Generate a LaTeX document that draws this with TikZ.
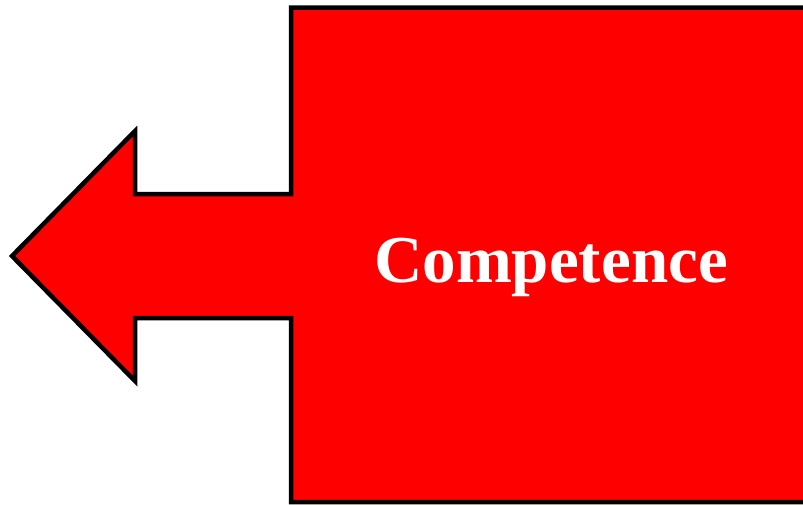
\documentclass[tikz,border=0pt]{standalone}
\usepackage{fontspec}
\newfontfamily\wordfont{Liberation Serif}

\begin{document}
\begin{tikzpicture}[x=1pt,y=-1pt,
  outline/.style={draw=black,fill=red,line width=4.5pt,line join=miter},
  word/.style={font=\wordfont\bfseries\fontsize{67}{67}\selectfont,text=white,inner sep=0pt}]
\useasboundingbox (0,0) rectangle (803,504);
\clip (0,0) rectangle (803,504);
% arrow to the left
\coordinate (tip)      at (12,256);
\coordinate (headtop)  at (135,131);
\coordinate (headbot)  at (135,381);
\coordinate (shafttop) at (291,194);
\coordinate (shaftbot) at (291,318);
% box, cut off at the right
\coordinate (boxtl) at (291,7.5);
\coordinate (boxtr) at (820,7.5);
\coordinate (boxbr) at (820,502);
\coordinate (boxbl) at (291,502);
\draw[outline] (tip)--(headtop)--(headtop|-shafttop)--(shafttop)--(boxtl)--(boxtr)
  --(boxbr)--(boxbl)--(shaftbot)--(headbot|-shaftbot)--(headbot)--cycle;
\node[word,anchor=base] (comp) at (551,282) {Competence};
\end{tikzpicture}
\end{document}
